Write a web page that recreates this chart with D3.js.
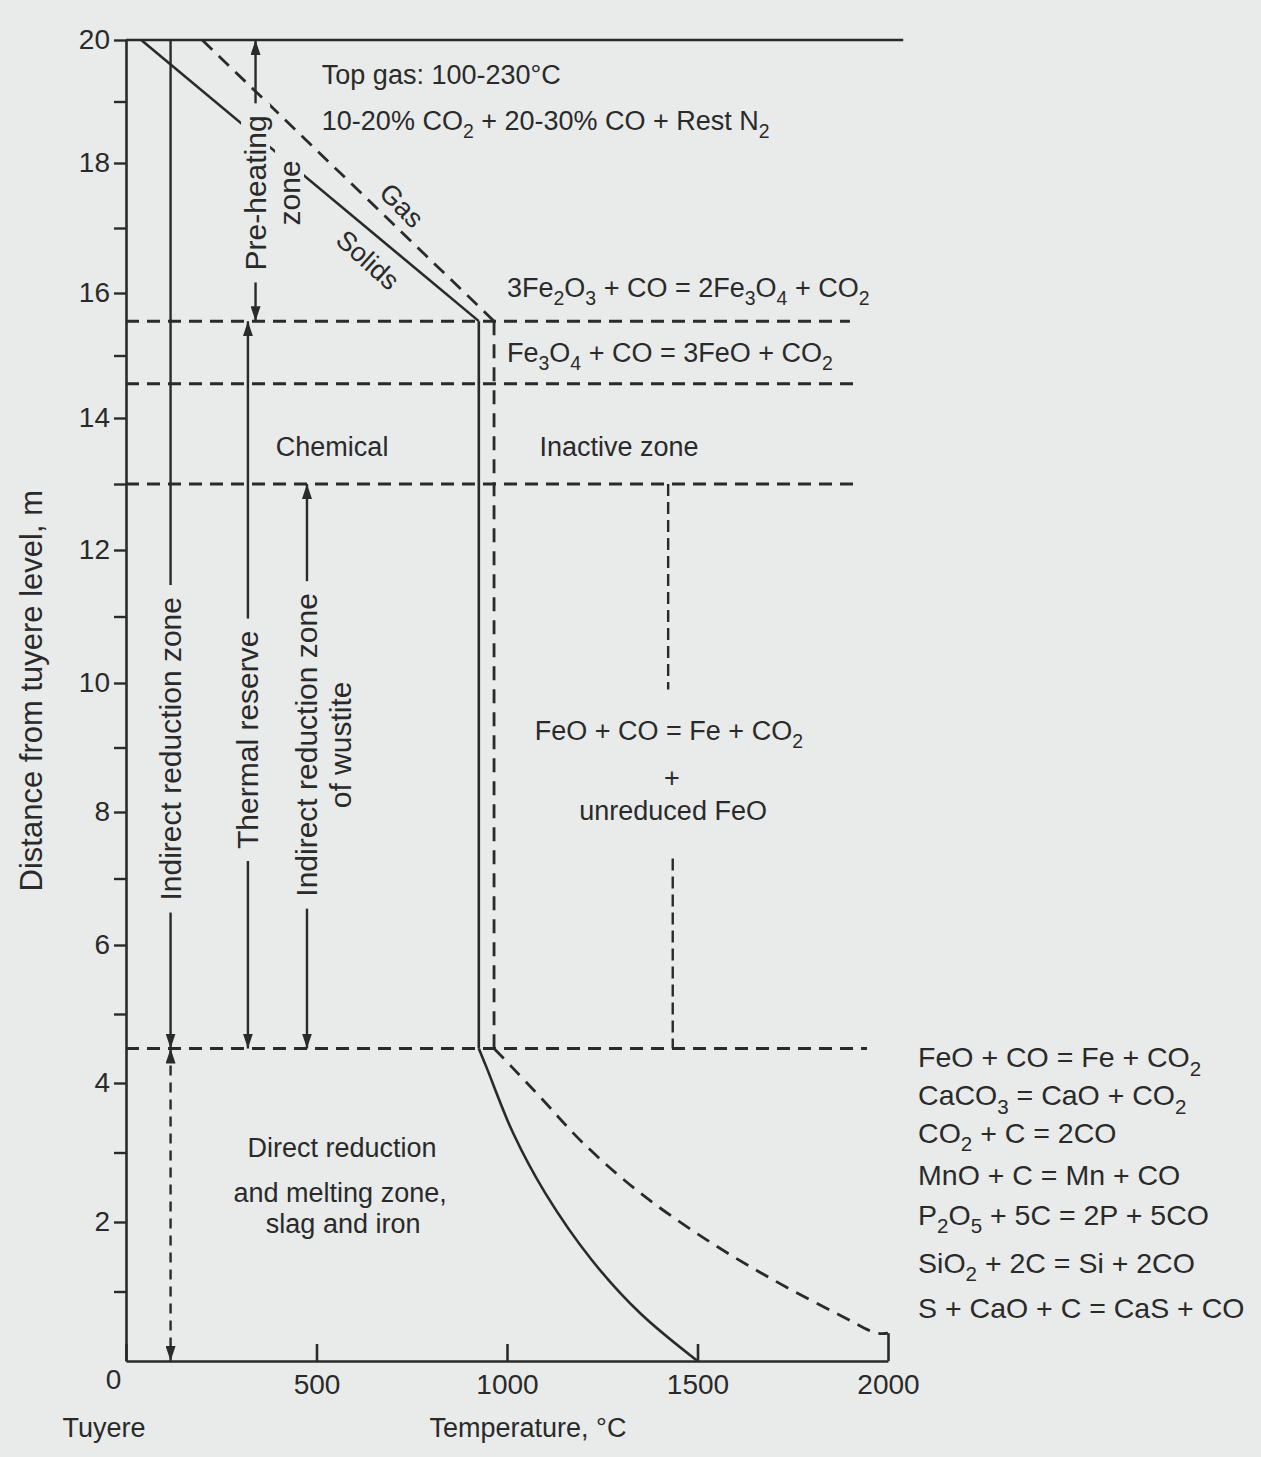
<!DOCTYPE html>
<html>
<head>
<meta charset="utf-8">
<script src="https://cdn.jsdelivr.net/npm/d3@7/dist/d3.min.js"></script>
<style>
html,body{margin:0;padding:0;background:#e8ebea;}
svg{display:block;}
svg text{font-family:"Liberation Sans", Arial, Helvetica, sans-serif; white-space:pre;}
</style>
</head>
<body>
<svg id="chart" width="1261" height="1457"></svg>
<script>
// ---------------- data ----------------
const xTickValues = [0, 500, 1000, 1500, 2000];
const yTickValues = d3.range(1, 21);
const yTickLabels = [2, 4, 6, 8, 10, 12, 14, 16, 18, 20];

// zone boundaries: height (m), right end (°C), dashed?
const boundaryHeights = [20, 15.55, 14.55, 13.0, 4.5];
const boundaryEnds    = [2040, 1900, 1915, 1913, 1945];
const boundaryDashed  = [false, true, true, true, true];

// temperature profiles [°C, m]
const solidsTop   = [[40, 20], [926, 15.55]];
const solidsShaft = [[926, 15.55], [926, 4.5]];
const solidsBosh  = [[926, 4.5], [946, 4.23], [1016, 3.28], [1100, 2.42], [1223, 1.45], [1349, 0.69], [1500, 0]];
const gasTop      = [[200, 20], [966, 15.55]];
const gasShaft    = [[966, 15.55], [966, 4.5]];
const gasBosh     = [[966, 4.5], [1013, 4.23], [1087, 3.80], [1199, 3.14], [1349, 2.42], [1525, 1.74], [1698, 1.17], [1874, 0.66], [1971, 0.40], [2000, 0.40]];

// short dashed separators [°C, from m, to m]
const subDividers = [[1423, 13.0, 9.9], [1435, 7.3, 4.5]];

// zone arrows [°C, from m, to m]
const arrowIndirect = [117, 20, 4.5];
const arrowDirect   = [117, 4.5, 0];
const arrowPreheat  = [340, 20, 15.55];
const arrowThermal  = [320, 15.55, 4.5];
const arrowWustite  = [475, 13.0, 4.5];

// horizontal annotations: text, °C, m, anchor
const noteTexts   = ["Top gas: 100-230\u00B0C", "10-20% CO_2 + 20-30% CO + Rest N_2",
                     "3Fe_2O_3 + CO = 2Fe_3O_4 + CO_2", "Fe_3O_4 + CO = 3FeO + CO_2",
                     "Chemical", "Inactive zone", "FeO + CO = Fe + CO_2", "+", "unreduced FeO",
                     "Direct reduction", "and melting zone,", "slag and iron"];
const noteT       = [514, 514, 1000, 1000, 541, 1294, 1073, 1433, 1436, 567, 562, 570];
const noteH       = [19.29, 18.54, 15.94, 14.90, 13.42, 13.42, 9.12, 8.38, 7.88, 2.94, 2.29, 1.84];
const noteAnchor  = ["start","start","start","start","middle","middle","start","middle","middle","middle","middle","middle"];

// reactions of the bosh/hearth
const reactions  = ["FeO + CO = Fe + CO_2", "CaCO_3 = CaO + CO_2", "CO_2 + C = 2CO", "MnO + C = Mn + CO",
                    "P_2O_5 + 5C = 2P + 5CO", "SiO_2 + 2C = Si + 2CO", "S + CaO + C = CaS + CO"];
const reactionH  = [4.23, 3.68, 3.14, 2.53, 1.96, 1.27, 0.62];
const reactionT  = 2079;

// vertical zone labels
const vLabelLines = [["Indirect reduction zone"], ["Thermal reserve"], ["Indirect reduction zone", "of wustite"], ["Pre-heating", "zone"]];
const vLabelT     = [117, 320, 475, 340];
const vLabelH     = [8.98, 9.12, 9.04, 17.54];
const vLabelMask  = [[true], [true], [true, false], [true, true]];

// ---------------- drawing ----------------
const INK = '#2a2a2a', BG = '#e8ebea';
const svg = d3.select('#chart');
svg.append('rect').attr('width', 1261).attr('height', 1457).attr('fill', BG);

const x = d3.scaleLinear().domain([0, 2000]).range([126, 888]);
const y = d3.scaleLinear().domain([0, 2, 4, 6, 8, 10, 12, 14, 16, 18, 20])
  .range([1361, 1222, 1083, 945, 812, 683, 550, 418, 293, 163, 40]);

const defs = svg.append('defs');
defs.append('marker').attr('id', 'ah').attr('viewBox', '0 0 15 10').attr('refX', 15).attr('refY', 5)
  .attr('markerWidth', 15).attr('markerHeight', 10).attr('markerUnits', 'userSpaceOnUse')
  .attr('orient', 'auto-start-reverse')
  .append('path').attr('d', 'M0,0L15,5L0,10Z').attr('fill', INK);

const line = d3.line().x(d => x(d[0])).y(d => y(d[1]));
const smooth = d3.line().x(d => x(d[0])).y(d => y(d[1])).curve(d3.curveCatmullRom.alpha(0.5));

// boundaries
boundaryHeights.forEach((h, i) => {
  svg.append('line').attr('x1', x(0)).attr('x2', x(boundaryEnds[i]))
    .attr('y1', y(h)).attr('y2', y(h))
    .attr('stroke', INK).attr('stroke-width', boundaryDashed[i] ? 3 : 2.6)
    .attr('stroke-dasharray', boundaryDashed[i] ? '13 8' : null);
});

// sub dividers
subDividers.forEach(s => {
  svg.append('line').attr('x1', x(s[0])).attr('x2', x(s[0])).attr('y1', y(s[1])).attr('y2', y(s[2]))
    .attr('stroke', INK).attr('stroke-width', 2.4).attr('stroke-dasharray', '12 6');
});

// profiles
[[solidsTop, line], [solidsShaft, line], [solidsBosh, smooth]].forEach(([d, gen]) => {
  svg.append('path').attr('d', gen(d)).attr('fill', 'none').attr('stroke', INK).attr('stroke-width', 2.6);
});
[[gasTop, line], [gasShaft, line], [gasBosh, smooth]].forEach(([d, gen]) => {
  svg.append('path').attr('d', gen(d)).attr('fill', 'none').attr('stroke', INK).attr('stroke-width', 2.8)
    .attr('stroke-dasharray', '14 9');
});

// axes
const gx = svg.append('g').attr('transform', `translate(0,${y(0)})`)
  .call(d3.axisBottom(x).tickValues(xTickValues).tickSize(-17).tickSizeOuter(0).tickPadding(13)
    .tickFormat(d3.format('d')));
gx.select('.domain').attr('stroke', INK).attr('stroke-width', 2.6);
gx.selectAll('.tick line').attr('stroke', INK).attr('stroke-width', 2.6)
  .filter(d => d === 2000).attr('y2', y(0.4) - y(0));
gx.selectAll('.tick text').attr('font-size', 28).attr('fill', INK)
  .filter(d => d === 0).attr('transform', 'translate(-13,-5)');

const gy = svg.append('g').attr('transform', `translate(${x(0)},0)`)
  .call(d3.axisLeft(y).tickValues(yTickValues).tickSize(12).tickSizeOuter(0).tickPadding(4)
    .tickFormat(d => yTickLabels.includes(d) ? d : ''));
gy.select('.domain').attr('stroke', INK).attr('stroke-width', 2.6);
gy.selectAll('.tick line').attr('stroke', INK).attr('stroke-width', 2.4);
gy.selectAll('.tick text').attr('font-size', 28).attr('fill', INK);

// arrows
function arrow(a, start, end, dashed) {
  svg.append('line').attr('x1', x(a[0])).attr('x2', x(a[0])).attr('y1', y(a[1])).attr('y2', y(a[2]))
    .attr('stroke', INK).attr('stroke-width', 2.4)
    .attr('stroke-dasharray', dashed ? '10 7' : null)
    .attr('marker-start', start ? 'url(#ah)' : null)
    .attr('marker-end', end ? 'url(#ah)' : null);
}
arrow(arrowIndirect, false, true, false);
arrow(arrowDirect, true, true, true);
arrow(arrowPreheat, true, true, false);
arrow(arrowThermal, true, true, false);
arrow(arrowWustite, true, true, false);

// rich text with subscripts (_x)
function rich(t, str, fs) {
  const parts = str.split(/(_.)/).filter(s => s.length);
  const shift = fs * 0.3;
  let prevSub = false;
  parts.forEach(p => {
    const sub = p[0] === '_';
    const ts = t.append('tspan').text(sub ? p.slice(1) : p);
    if (sub) ts.attr('font-size', fs * 0.72).attr('dy', shift);
    else if (prevSub) ts.attr('dy', -shift);
    prevSub = sub;
  });
}

// vertical labels
vLabelLines.forEach((lines, k) => {
  const g = svg.append('g').attr('transform', `translate(${x(vLabelT[k])},${y(vLabelH[k])}) rotate(-90)`);
  lines.forEach((s, i) => {
    const t = g.append('text').attr('x', 0).attr('y', i * 34).attr('dy', '0.35em')
      .attr('text-anchor', 'middle').attr('font-size', 30).attr('fill', INK).text(s);
    if (vLabelMask[k][i]) {
      const b = t.node().getBBox();
      g.insert('rect', 'text').attr('x', b.x - 12).attr('y', b.y + 2)
        .attr('width', b.width + 24).attr('height', b.height - 4).attr('fill', BG);
    }
  });
});

// Gas / Solids
[["Gas", 724, 17.35, 45], ["Solids", 635, 16.51, 42]].forEach(([s, t, h, r]) => {
  svg.append('text').attr('transform', `translate(${x(t)},${y(h)}) rotate(${r})`)
    .attr('text-anchor', 'middle').attr('dy', '0.35em').attr('font-size', 27).attr('fill', INK).text(s);
});

// horizontal notes
noteTexts.forEach((s, i) => {
  const t = svg.append('text').attr('x', x(noteT[i])).attr('y', y(noteH[i]))
    .attr('text-anchor', noteAnchor[i]).attr('font-size', 27).attr('fill', INK);
  rich(t, s, 27);
});

// reactions
reactions.forEach((s, i) => {
  const t = svg.append('text').attr('x', x(reactionT)).attr('y', y(reactionH[i]))
    .attr('font-size', 28.5).attr('fill', INK);
  rich(t, s, 28.5);
});

// axis titles
svg.append('text').attr('x', x(0) - 22).attr('y', 1437).attr('text-anchor', 'middle')
  .attr('font-size', 27).attr('fill', INK).text('Tuyere');
svg.append('text').attr('x', x(1055)).attr('y', 1437).attr('text-anchor', 'middle')
  .attr('font-size', 27).attr('fill', INK).text('Temperature, \u00B0C');
svg.append('text').attr('transform', `translate(42,${y(9.88)}) rotate(-90)`).attr('text-anchor', 'middle')
  .attr('font-size', 31).attr('fill', INK).text('Distance from tuyere level, m');
</script>
</body>
</html>
